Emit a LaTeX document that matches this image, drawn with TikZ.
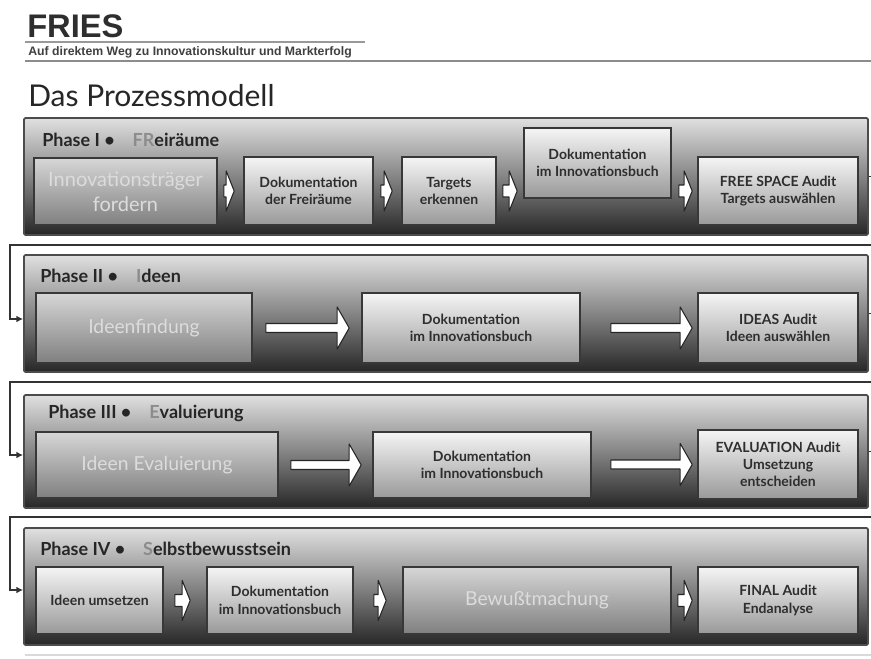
\documentclass[tikz,border=0pt]{standalone}
\usepackage{fontspec}
\setmainfont{Lato}
\newfontfamily\arialf{Liberation Sans}
\usetikzlibrary{calc,arrows.meta}
\definecolor{acro}{HTML}{8C8C8C}
\definecolor{txtdark}{HTML}{2E2E2E}
\definecolor{faded}{HTML}{DCDCDC}
\tikzset{
  phasebox/.style={draw=black!70, line width=1.3pt, rounded corners=1pt,
    top color=black!12, bottom color=black!85, middle color=black!48, inner sep=0pt},
  stepbox/.style={draw=black!78, line width=1.2pt, top color=black!4, bottom color=black!40,
    inner sep=0pt, align=center, text=txtdark,
    font=\bfseries\fontsize{10.5}{13}\selectfont},
  fadebox/.style={stepbox, top color=black!16, bottom color=black!50, text=faded,
    font=\fontsize{14.5}{18}\selectfont},
  phaselabel/.style={anchor=base west, inner sep=0pt, text=black!85,
    font=\bfseries\fontsize{13.5}{16}\selectfont},
  conn/.style={draw=black!80, line width=1.1pt, -{Latex[length=5pt,width=5pt]}},
  barrow/.style={draw=black!85, fill=white, line width=0.8pt, line join=round}
}
% box node: style, name, x1, y1, x2, y2 (px), text
\newcommand\boxnode[7]{%
  \node[#1, minimum width={(#5-#3)*0.75pt}, minimum height={(#6-#4)*0.75pt}]
    (#2) at ({(#3+#5)/2},{(#4+#6)/2}) {#7};}
% block arrow: from, to, y-node, left gap, right gap, shaft half-height, head half-height, head length (px)
\newcommand\blkarrow[8]{%
  \path[barrow] let \p1=(#1.east), \p2=(#2.west), \p3=(#3.center) in
    (\x1+#4*0.75pt,\y3+#6*0.75pt) -- (\x2-#5*0.75pt-#8*0.75pt,\y3+#6*0.75pt)
    -- (\x2-#5*0.75pt-#8*0.75pt,\y3+#7*0.75pt) -- (\x2-#5*0.75pt,\y3)
    -- (\x2-#5*0.75pt-#8*0.75pt,\y3-#7*0.75pt) -- (\x2-#5*0.75pt-#8*0.75pt,\y3-#6*0.75pt)
    -- (\x1+#4*0.75pt,\y3-#6*0.75pt) -- cycle;}
\begin{document}
\begin{tikzpicture}[x=0.75pt,y=-0.75pt]
\useasboundingbox (0,0) rectangle (871,658);
\clip (0,0) rectangle (871,658);
\fill[white] (0,0) rectangle (871,658);
% header
\node[anchor=base west, inner sep=0pt, text=black!82, font=\arialf\bfseries\fontsize{24.5}{25}\selectfont] (title) at (27,37) {FRIES};
\draw[black!40, line width=0.8pt] (25,42) -- (365,42);
\node[anchor=base west, inner sep=0pt, text=black!75, font=\arialf\bfseries\fontsize{9.2}{10}\selectfont] (subtitle) at (28,55.5) {Auf direktem Weg zu Innovationskultur und Markterfolg};
\draw[black!45, line width=0.9pt] (25,61) -- (871,61);
\node[anchor=base west, inner sep=0pt, text=black!85, font=\fontsize{22.5}{24}\selectfont] (heading) at (28,106) {Das Prozessmodell};
\draw[black!15, line width=0.8pt] (25,655) -- (871,655);
% phase frames
\boxnode{phasebox}{p1}{24}{118}{868}{235}{}
\boxnode{phasebox}{p2}{24}{255}{868}{372}{}
\boxnode{phasebox}{p3}{24}{395}{868}{508}{}
\boxnode{phasebox}{p4}{24}{528}{868}{645}{}
% phase labels
\node[phaselabel] (l1) at (42,146) {Phase I \textbullet\quad{\color{acro}FR}eiräume};
\node[phaselabel] (l2) at (40,282) {Phase II \textbullet\quad{\color{acro}I}deen};
\node[phaselabel] (l3) at (48,418) {Phase III \textbullet\quad{\color{acro}E}valuierung};
\node[phaselabel] (l4) at (40,555) {Phase IV \textbullet\quad{\color{acro}S}elbstbewusstsein};
% phase I
\boxnode{fadebox,font=\fontsize{15}{19}\selectfont}{b11}{34}{158}{217}{225}{Innovationsträger\\fordern}
\boxnode{stepbox}{b12}{244}{157}{373}{225}{Dokumentation\\der Freiräume}
\boxnode{stepbox}{b13}{402}{157}{496}{225}{Targets\\erkennen}
\boxnode{stepbox}{b14}{524}{128}{671}{198}{Dokumentation\\im Innovationsbuch}
\boxnode{stepbox}{b15}{698}{157}{858}{225}{FREE SPACE Audit\\Targets auswählen}
% phase II
\boxnode{fadebox}{b21}{36}{293}{252}{363}{Ideenfindung}
\boxnode{stepbox}{b22}{362}{293}{580}{363}{Dokumentation\\im Innovationsbuch}
\boxnode{stepbox}{b23}{698}{293}{858}{363}{IDEAS Audit\\Ideen auswählen}
% phase III
\boxnode{fadebox}{b31}{36}{432}{278}{498}{Ideen Evaluierung}
\boxnode{stepbox}{b32}{373}{432}{591}{498}{Dokumentation\\im Innovationsbuch}
\boxnode{stepbox}{b33}{698}{430}{858}{499}{EVALUATION Audit\\Umsetzung\\entscheiden}
% phase IV
\boxnode{stepbox}{b41}{36}{567}{163}{634}{Ideen umsetzen}
\boxnode{stepbox}{b42}{207}{567}{353}{634}{Dokumentation\\im Innovationsbuch}
\boxnode{fadebox}{b43}{403}{567}{671}{634}{Bewußtmachung}
\boxnode{stepbox}{b44}{698}{567}{858}{634}{FINAL Audit\\Endanalyse}
% arrows between steps
\blkarrow{b11}{b12}{b12}{6}{9}{6}{20}{8}
\blkarrow{b12}{b13}{b13}{7}{9}{6}{20}{8}
\blkarrow{b13}{b14}{b13}{6}{6}{6}{20}{8}
\blkarrow{b14}{b15}{b15}{7}{5}{6}{20}{8}
\blkarrow{b21}{b22}{b22}{13}{12}{4.5}{21}{12}
\blkarrow{b22}{b23}{b23}{30}{5}{4.5}{21}{12}
\blkarrow{b31}{b32}{b32}{12}{11}{4.5}{21}{12}
\blkarrow{b32}{b33}{b33}{19}{5}{4.5}{21}{12}
\blkarrow{b41}{b42}{b42}{11}{16}{6}{20}{8}
\blkarrow{b42}{b43}{b43}{20}{16}{6}{20}{8}
\blkarrow{b43}{b44}{b44}{6}{5}{6}{20}{8}
% connectors between phases
\draw[conn] (p1.east) -- ++(15,0) |- (10,245) |- ($(p2.west)+(0,5.5)$);
\draw[conn] (p2.east) -- ++(15,0) |- (10,382) |- ($(p3.west)+(0,3.5)$);
\draw[conn] (p3.east) -- ++(15,0) |- (10,517) |- ($(p4.west)+(0,3.5)$);
\end{tikzpicture}
\end{document}
